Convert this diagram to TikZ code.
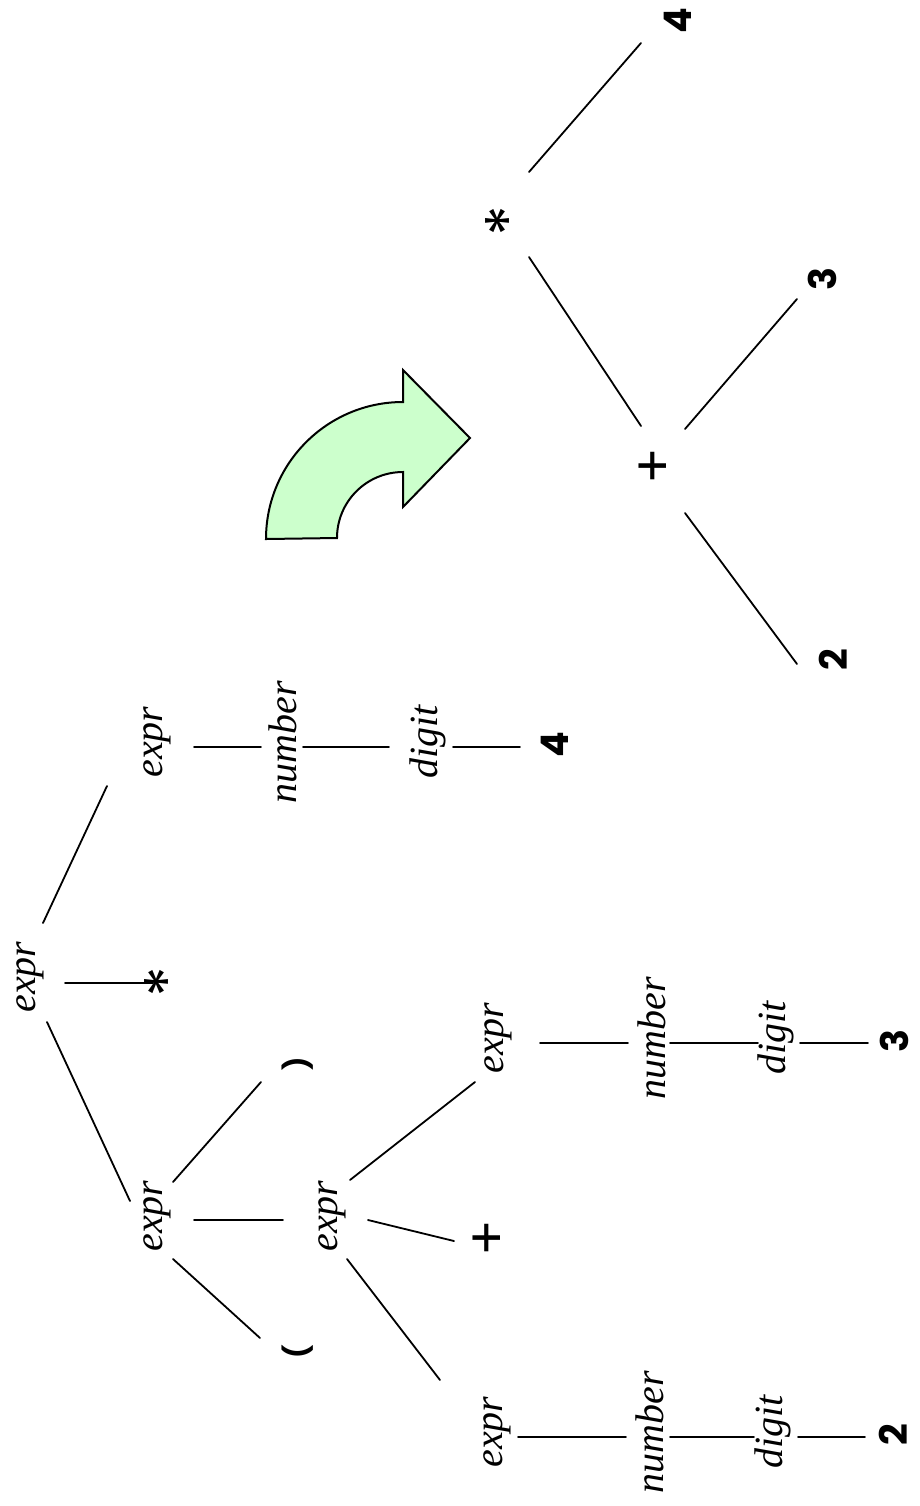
\documentclass[tikz,border=0pt]{standalone}
\usepackage{fontspec}
\setmainfont{Liberation Serif}
\newfontfamily\termfont{Poppins}
\definecolor{arrowfill}{HTML}{CCFFCC}
\begin{document}
\begin{tikzpicture}[x=0.5pt,y=-0.5pt,
  nonterm/.style={font=\fontsize{20}{24}\selectfont\itshape, rotate=90, inner sep=0pt},
  term/.style={font=\termfont\bfseries\fontsize{19}{23}\selectfont, rotate=90, inner sep=0pt},
  opterm/.style={term, font=\termfont\fontsize{27}{31}\selectfont},
  starterm/.style={term, font=\termfont\fontsize{32}{36}\selectfont},
  parterm/.style={term, font=\termfont\bfseries\fontsize{14}{17}\selectfont},
  edge/.style={line width=0.9pt, line cap=round},
  bigarrow/.style={draw=black, line width=1pt, fill=arrowfill, line join=miter}]
\path[use as bounding box] (0,0) rectangle (920,1506);

% ---------- parse tree ----------
\node[nonterm] (r)  at (30,977)  {expr};
\node[nonterm] (e4) at (157,742) {expr};
\node[nonterm] (n4) at (283,742) {number};
\node[nonterm] (d4) at (428,742) {digit};
\node[term]    (t4) at (555,745) {4};
\node[starterm] (star) at (168,982) {*};
\node[nonterm] (em) at (157,1216) {expr};
\node[parterm] (rp) at (298,1064) {)};
\node[parterm] (lp) at (298,1352) {(};
\node[nonterm] (e2) at (332,1216) {expr};
\node[opterm]  (plus) at (490,1238) {+};
\node[nonterm] (e3) at (498,1038) {expr};
\node[nonterm] (n3) at (652,1038) {number};
\node[nonterm] (d3) at (776,1038) {digit};
\node[term]    (t3) at (894,1041) {3};
\node[nonterm] (eb) at (497,1432) {expr};
\node[nonterm] (nb) at (650,1432) {number};
\node[nonterm] (db) at (773,1432) {digit};
\node[term]    (tb) at (893,1435) {2};

\draw[edge] ([shift={(13,-54)}]r.center) -- ([shift={(-50,44)}]e4.center);
\draw[edge] ([shift={(35,6)}]r.center) -- ([shift={(-15,1)}]star.center);
\draw[edge] ([shift={(17,45)}]r.center) -- ([shift={(-27,-15)}]em.center);

\draw[edge] ([shift={(37,5)}]e4.center) -- ([shift={(-22,5)}]n4.center);
\draw[edge] ([shift={(20,5)}]n4.center) -- ([shift={(-39,5)}]d4.center);
\draw[edge] ([shift={(25,5)}]d4.center) -- ([shift={(-35,2)}]t4.center);

\draw[edge] ([shift={(16,-34)}]em.center) -- ([shift={(-37,18)}]rp.center);
\draw[edge] ([shift={(37,4)}]em.center) -- ([shift={(-49,4)}]e2.center);
\draw[edge] ([shift={(16,43)}]em.center) -- ([shift={(-38,-14)}]lp.center);

\draw[edge] ([shift={(18,-36)}]e2.center) -- ([shift={(-23,44)}]e3.center);
\draw[edge] ([shift={(36,4)}]e2.center) -- ([shift={(-36,3)}]plus.center);
\draw[edge] ([shift={(15,43)}]e2.center) -- ([shift={(-57,-52)}]eb.center);

\draw[edge] ([shift={(42,5)}]e3.center) -- ([shift={(-24,5)}]n3.center);
\draw[edge] ([shift={(18,5)}]n3.center) -- ([shift={(-18,5)}]d3.center);
\draw[edge] ([shift={(24,5)}]d3.center) -- ([shift={(-26,2)}]t3.center);

\draw[edge] ([shift={(21,5)}]eb.center) -- ([shift={(-24,5)}]nb.center);
\draw[edge] ([shift={(20,5)}]nb.center) -- ([shift={(-19,5)}]db.center);
\draw[edge] ([shift={(25,5)}]db.center) -- ([shift={(-28,2)}]tb.center);

% ---------- transformation arrow ----------
\draw[bigarrow] (266,539) arc[start angle=180, end angle=270, radius=137]
  -- (403,370) -- (470,438) -- (403,507) -- (403,472)
  arc[start angle=270, end angle=180, radius=66] -- cycle;

% ---------- abstract syntax tree ----------
\node[starterm] (star2) at (509,221) {*};
\node[term]   (four)  at (678,21)  {4};
\node[opterm] (plus2) at (656,466) {+};
\node[term]   (three) at (822,279) {3};
\node[term]   (two)   at (833,660) {2};

\draw[edge] ([shift={(20,-49)}]star2.center) -- ([shift={(-37,22)}]four.center);
\draw[edge] ([shift={(20,36)}]star2.center) -- ([shift={(-15,-40)}]plus2.center);
\draw[edge] ([shift={(29,-37)}]plus2.center) -- ([shift={(-25,20)}]three.center);
\draw[edge] ([shift={(29,47)}]plus2.center) -- ([shift={(-36,4)}]two.center);
\end{tikzpicture}
\end{document}
